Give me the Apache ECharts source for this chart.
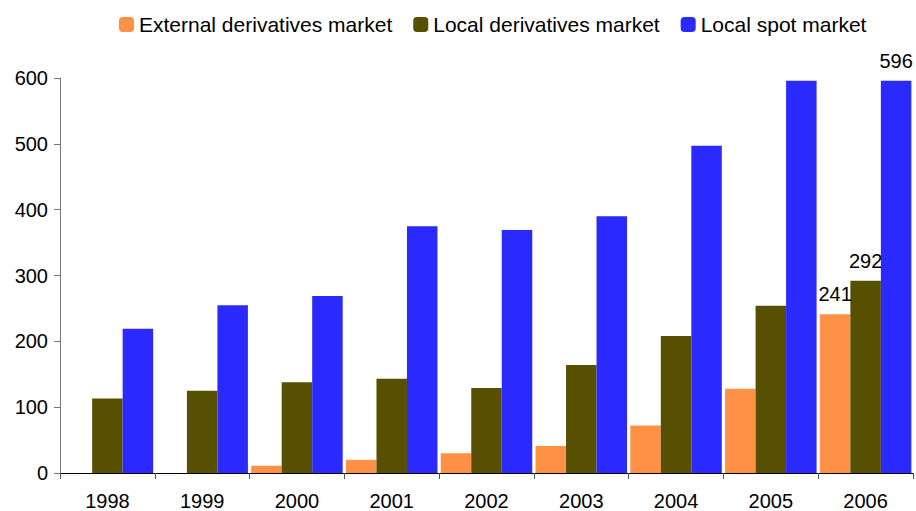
<!DOCTYPE html>
<html><head><meta charset="utf-8">
<script src="https://cdn.jsdelivr.net/npm/echarts@6/dist/echarts.min.js"></script>
<style>html,body{margin:0;padding:0;background:#fff}#c{width:916px;height:511px}</style>
</head><body><div id="c"></div>
<script>
const categories = ['1998','1999','2000','2001','2002','2003','2004','2005','2006'];
const externalDeriv = [null, null, 11, 20, 30, 41, 72, 128, 241];
const localDeriv = [113, 125, 138, 143, 129, 164, 208, 254, 292];
const localSpot = [219, 255, 269, 375, 369, 390, 497, 596, 596];
const yTicks = [0, 100, 200, 300, 400, 500, 600];
const seriesNames = ['External derivatives market', 'Local derivatives market', 'Local spot market'];
const colors = ['#FF9147', '#575000', '#2A2AFF'];

const font = 'Liberation Sans, Arial, sans-serif';
const lastIdx = categories.length - 1;
function lbl(){
  return {show: true, position: 'top', distance: 10, color: '#000', fontFamily: font, fontSize: 20,
    formatter: p => p.dataIndex === lastIdx ? String(p.value) : ''};
}
const chart = echarts.init(document.getElementById('c'), null, {renderer: 'svg'});
chart.setOption({
  animation: false,
  color: colors,
  textStyle: {fontFamily: font},
  legend: {
    top: 14, left: 119, padding: 0, itemWidth: 15, itemHeight: 15, itemGap: 21,
    textStyle: {fontFamily: font, fontSize: 21, color: '#000'},
    data: seriesNames
  },
  grid: {left: 60, right: 3, top: 78, bottom: 38, containLabel: false, outerBoundsMode: 'none'},
  xAxis: {
    type: 'category', data: categories,
    axisLine: {lineStyle: {color: '#000', width: 1}},
    axisTick: {show: true, length: 6, lineStyle: {color: '#555'}},
    axisLabel: {color: '#000', fontSize: 20, lineHeight: 16, fontFamily: font, margin: 20}
  },
  yAxis: {
    type: 'value', min: yTicks[0], max: yTicks[yTicks.length-1], interval: 100,
    axisLine: {show: true, lineStyle: {color: '#777'}},
    axisTick: {show: true, length: 6, lineStyle: {color: '#777'}},
    axisLabel: {color: '#000', fontSize: 20, fontFamily: font, margin: 12},
    splitLine: {show: false}
  },
  series: seriesNames.map((n, i) => ({
    name: n, type: 'bar', barGap: '0%', barWidth: 30.5,
    data: [externalDeriv, localDeriv, localSpot][i],
    itemStyle: {color: colors[i]},
    label: lbl()
  }))
});
</script></body></html>
